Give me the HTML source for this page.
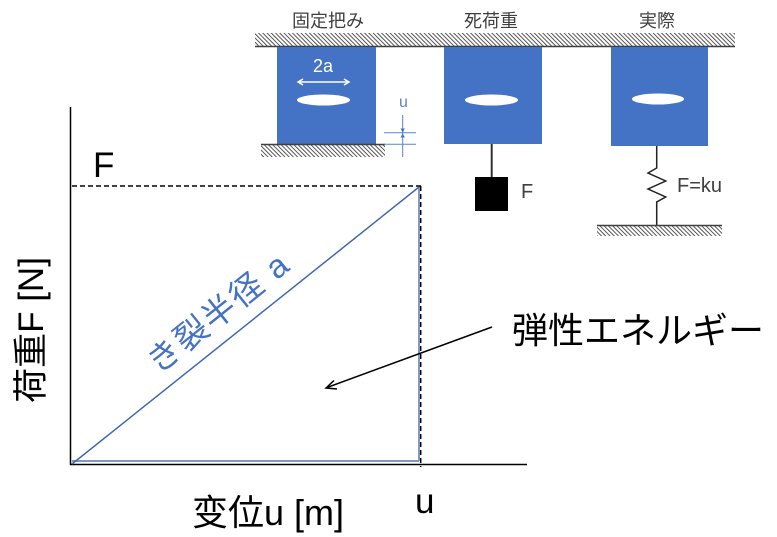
<!DOCTYPE html>
<html><head><meta charset="utf-8"><style>
html,body{margin:0;padding:0;background:#fff;}
svg{display:block;}
text{font-family:"Liberation Sans","Noto Sans CJK JP",sans-serif;}
</style></head><body>
<svg width="777" height="537" viewBox="0 0 777 537" xmlns="http://www.w3.org/2000/svg">
<defs>
<pattern id="h" width="3" height="3" patternUnits="userSpaceOnUse" patternTransform="rotate(-45)">
<rect width="3" height="3" fill="#fff"/>
<line x1="0" y1="0" x2="0" y2="3" stroke="#444" stroke-width="1.8"/>
</pattern>
</defs>

<!-- top labels -->
<text x="328" y="27" font-size="18" fill="#404040" text-anchor="middle">固定把み</text>
<text x="491" y="27" font-size="18" fill="#404040" text-anchor="middle">死荷重</text>
<text x="657" y="27" font-size="18" fill="#404040" text-anchor="middle">実際</text>

<!-- top hatched ceiling -->
<rect x="255" y="33" width="480" height="13" fill="url(#h)"/>
<line x1="255" y1="46.5" x2="735" y2="46.5" stroke="#404040" stroke-width="1.5"/>

<!-- block 1 -->
<rect x="277" y="47" width="99" height="97" fill="#4472C4"/>
<rect x="261" y="145" width="124" height="12" fill="url(#h)"/>
<line x1="261" y1="144.5" x2="385" y2="144.5" stroke="#404040" stroke-width="1.5"/>
<ellipse cx="323.5" cy="100" rx="26.5" ry="5.5" fill="#fff"/>
<line x1="298" y1="82" x2="349" y2="82" stroke="#fff" stroke-width="1.5"/>
<polyline points="303,79 298,82 303,85" fill="none" stroke="#fff" stroke-width="1.5"/>
<polyline points="344,79 349,82 344,85" fill="none" stroke="#fff" stroke-width="1.5"/>
<text x="323" y="72" font-size="18" fill="#fff" text-anchor="middle">2a</text>

<!-- u dimension -->
<text x="399" y="107" font-size="16" fill="#5B84CC">u</text>
<line x1="402.7" y1="115" x2="402.7" y2="157" stroke="#5B84CC" stroke-width="1"/>
<line x1="384" y1="132.7" x2="416" y2="132.7" stroke="#5B84CC" stroke-width="1"/>
<line x1="384" y1="144.3" x2="416" y2="144.3" stroke="#5B84CC" stroke-width="1"/>
<polygon points="400.5,128.5 404.9,128.5 402.7,132.5" fill="#4472C4"/>
<polygon points="400.5,137.5 404.9,137.5 402.7,133.5" fill="#4472C4"/>

<!-- block 2 -->
<rect x="444" y="47" width="98" height="97" fill="#4472C4"/>
<ellipse cx="491.5" cy="100" rx="26.5" ry="5.5" fill="#fff"/>
<line x1="491.7" y1="144" x2="491.7" y2="177" stroke="#333" stroke-width="2"/>
<rect x="475" y="177" width="33" height="34" fill="#000"/>
<text x="521" y="198" font-size="20" fill="#404040">F</text>

<!-- block 3 -->
<rect x="611" y="47" width="97" height="99" fill="#4472C4"/>
<ellipse cx="658" cy="99" rx="26" ry="5.5" fill="#fff"/>
<polyline points="656.7,146 656.7,168 648,173 665.7,181 648,189 665.7,197 656.7,202 656.7,225" fill="none" stroke="#222" stroke-width="1.5"/>
<rect x="597" y="226" width="125" height="10" fill="url(#h)"/>
<line x1="597" y1="225.5" x2="722" y2="225.5" stroke="#404040" stroke-width="1.5"/>
<text x="677" y="192" font-size="20" fill="#404040">F=ku</text>

<!-- graph axes -->
<line x1="70.5" y1="107" x2="70.5" y2="465" stroke="#000" stroke-width="1.5"/>
<line x1="70" y1="464.5" x2="527" y2="464.5" stroke="#000" stroke-width="1.5"/>
<line x1="72" y1="186" x2="421" y2="186" stroke="#000" stroke-width="1.5" stroke-dasharray="5 3"/>
<line x1="420.7" y1="186" x2="420.7" y2="467" stroke="#000" stroke-width="1.5" stroke-dasharray="5 3"/>
<line x1="419" y1="187" x2="419" y2="461" stroke="#7F97C6" stroke-width="2"/>
<line x1="72" y1="461" x2="419" y2="461" stroke="#7F97C6" stroke-width="2"/>
<line x1="72" y1="464" x2="419" y2="187" stroke="#4167B0" stroke-width="1.5"/>

<!-- graph labels -->
<text x="93" y="177" font-size="35" fill="#000">F</text>
<text x="415" y="513" font-size="35" fill="#000">u</text>
<text x="192" y="525" font-size="36" fill="#000">变位u [m]</text>
<text x="43" y="330" font-size="35" fill="#000" text-anchor="middle" transform="rotate(-90 43 330)">荷重F [N]</text>
<text x="218" y="324" font-size="33" letter-spacing="2" fill="#4472C4" text-anchor="middle" transform="rotate(-38.6 218 312)">き裂半径 a</text>

<!-- elastic energy -->
<text x="512" y="343" font-size="36" fill="#000">弾性エネルギー</text>
<line x1="492" y1="327" x2="327" y2="387.5" stroke="#000" stroke-width="1.5"/>
<polyline points="337,389 326,388 334,380.5" fill="none" stroke="#000" stroke-width="1.5"/>
</svg>
</body></html>
